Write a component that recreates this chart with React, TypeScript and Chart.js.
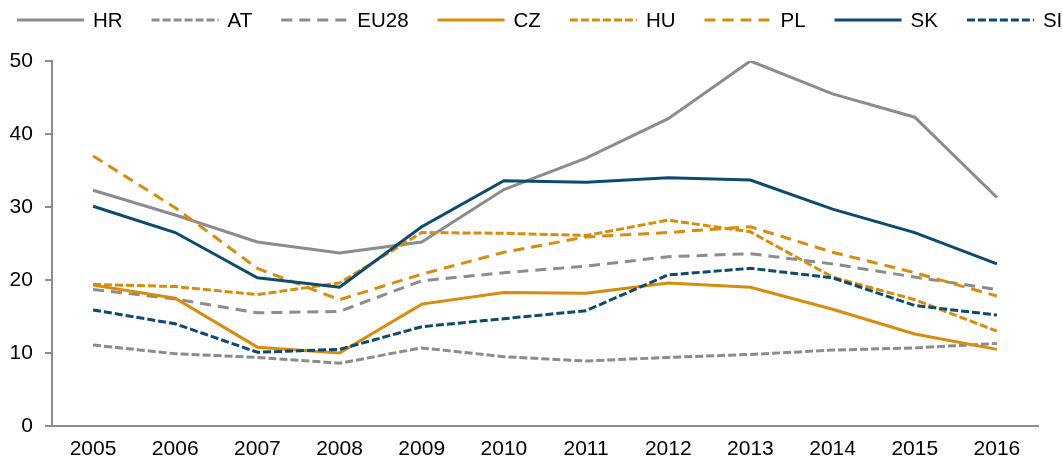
import React, { useEffect, useRef } from "react";
import { Chart, registerables } from "chart.js";

Chart.register(...registerables);

const years = ["2005", "2006", "2007", "2008", "2009", "2010", "2011", "2012", "2013", "2014", "2015", "2016"];
const yTicks = [0, 10, 20, 30, 40, 50];

const HR = [32.3, 28.9, 25.2, 23.7, 25.2, 32.4, 36.7, 42.1, 50.0, 45.5, 42.3, 31.3];
const AT = [11.1, 9.9, 9.4, 8.6, 10.7, 9.5, 8.9, 9.4, 9.8, 10.4, 10.7, 11.3];
const EU28 = [18.7, 17.4, 15.5, 15.7, 19.9, 21.0, 21.9, 23.2, 23.6, 22.2, 20.4, 18.7];
const CZ = [19.3, 17.5, 10.8, 10.0, 16.7, 18.3, 18.2, 19.6, 19.0, 16.0, 12.6, 10.5];
const HU = [19.4, 19.1, 18.0, 19.6, 26.5, 26.4, 26.1, 28.2, 26.6, 20.4, 17.3, 13.0];
const PL = [37.0, 29.9, 21.6, 17.3, 20.8, 23.8, 25.9, 26.5, 27.3, 23.8, 21.0, 17.8];
const SK = [30.1, 26.5, 20.3, 19.0, 27.3, 33.6, 33.4, 34.0, 33.7, 29.7, 26.5, 22.2];
const SI = [15.9, 14.0, 10.1, 10.5, 13.6, 14.7, 15.8, 20.7, 21.6, 20.3, 16.5, 15.2];

const GRAY = "#8c8c8c";
const ORANGE = "#d98c0b";
const BLUE = "#0b4b72";
const SHORT = [8, 3];
const LONG = [11, 7];
const FONT = "'Liberation Sans', Arial, Helvetica, sans-serif";

const seriesDefs = [
  { label: "HR", data: HR, color: GRAY, dash: [] as number[] },
  { label: "AT", data: AT, color: GRAY, dash: SHORT },
  { label: "EU28", data: EU28, color: GRAY, dash: LONG },
  { label: "CZ", data: CZ, color: ORANGE, dash: [] as number[] },
  { label: "HU", data: HU, color: ORANGE, dash: SHORT },
  { label: "PL", data: PL, color: ORANGE, dash: LONG },
  { label: "SK", data: SK, color: BLUE, dash: [] as number[] },
  { label: "SI", data: SI, color: BLUE, dash: SHORT },
];

const LEG = { x: 17, y: 20, line: 67, gap: 9, pad: 29, font: 20.5 };

const lineLegend = {
  id: "lineLegend",
  afterDraw(chart: any) {
    const ctx = chart.ctx;
    ctx.save();
    ctx.font = `${LEG.font}px ${FONT}`;
    ctx.textBaseline = "middle";
    ctx.textAlign = "left";
    let x = LEG.x;
    chart.data.datasets.forEach((ds: any) => {
      ctx.strokeStyle = ds.borderColor;
      ctx.lineWidth = ds.borderWidth;
      ctx.setLineDash(ds.borderDash || []);
      ctx.beginPath();
      ctx.moveTo(x, LEG.y);
      ctx.lineTo(x + LEG.line, LEG.y);
      ctx.stroke();
      ctx.setLineDash([]);
      ctx.fillStyle = "#000";
      const tx = x + LEG.line + LEG.gap;
      ctx.fillText(ds.label, tx, LEG.y + 1);
      x = tx + ctx.measureText(ds.label).width + LEG.pad;
    });
    ctx.restore();
  },
};

export default function App() {
  const ref = useRef<HTMLCanvasElement>(null);
  useEffect(() => {
    document.body.style.margin = "0";
    const chart = new Chart(ref.current as HTMLCanvasElement, {
      type: "line",
      data: {
        labels: years,
        datasets: seriesDefs.map((s, i) => ({
          label: s.label,
          data: s.data,
          borderColor: s.color,
          backgroundColor: s.color,
          borderWidth: 3,
          borderDash: s.dash,
          pointRadius: 0,
          tension: 0,
          fill: false,
          order: seriesDefs.length - i,
        })),
      },
      options: {
        responsive: false,
        animation: false,
        layout: { padding: { top: 61, left: -2.4, right: 25, bottom: -12.2 } },
        plugins: { legend: { display: false }, tooltip: { enabled: false } },
        scales: {
          x: {
            offset: true,
            grid: { display: false, drawTicks: false },
            border: { display: true, color: GRAY, width: 2 },
            ticks: { padding: 11, color: "#000", font: { size: 21, family: FONT } },
          },
          y: {
            min: 0,
            max: 50,
            afterBuildTicks: (axis: any) => {
              axis.ticks = yTicks.map((v) => ({ value: v }));
            },
            grid: { display: true, drawOnChartArea: false, drawTicks: true, tickLength: 7, color: GRAY, lineWidth: 2 },
            border: { display: true, color: GRAY, width: 2 },
            ticks: { padding: 12, color: "#000", font: { size: 21, family: FONT } },
          },
        },
      },
      plugins: [lineLegend],
    });
    return () => chart.destroy();
  }, []);
  return (
    <div style={{ width: 1063, height: 461 }}>
      <canvas ref={ref} width={1063} height={461} />
    </div>
  );
}
